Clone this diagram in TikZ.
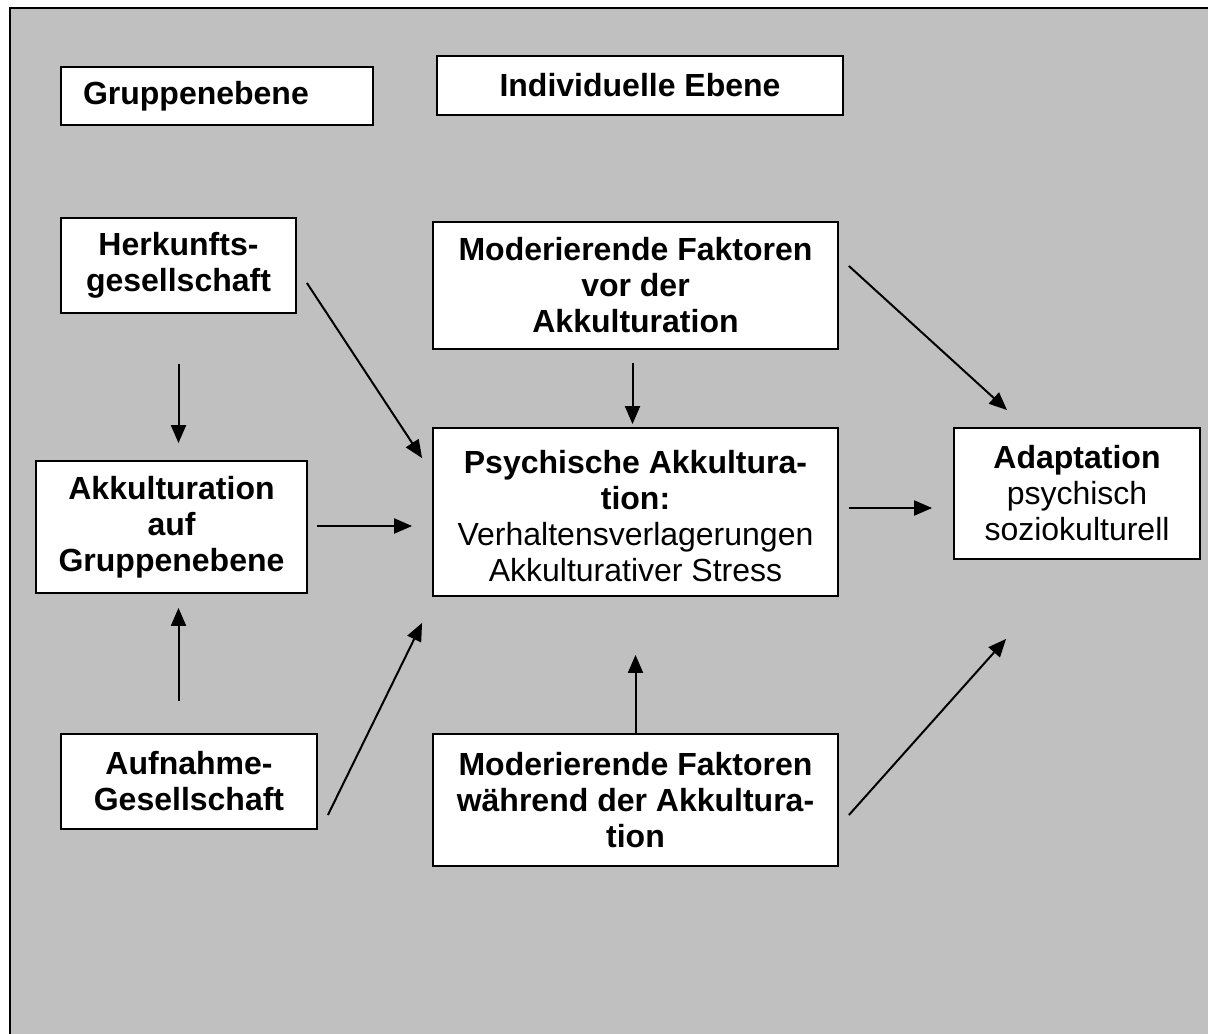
\documentclass[tikz,border=0pt]{standalone}
\usepackage{fontspec}
\setmainfont{Liberation Sans}
\usetikzlibrary{arrows.meta,positioning,calc}

\definecolor{panel}{HTML}{C0C0C0}

\begin{document}
\begin{tikzpicture}[
    x=0.5pt, y=-0.5pt,
    font=\fontsize{16}{18}\selectfont,
    box/.style={draw, line width=0.9pt, fill=white, align=center, inner sep=0pt},
    level/.style={box, font=\fontsize{16}{18}\selectfont\bfseries},
    flow/.style={-{Triangle[length=9pt,width=7.5pt]}, line width=1pt},
]
\useasboundingbox (0,0) rectangle (1208,1033);
\fill[white] (0,0) rectangle (1208,1033);
\draw[fill=panel, line width=1pt] (10,8) rectangle (1240,1060);

% =====================  LEVELS  =====================
\node[level, minimum width=156pt, minimum height=29pt, text width=134pt, align=left]
      (grp) at (217,96)    {Gruppenebene};
\node[level, minimum width=203pt, minimum height=29.5pt]
      (ind) at (640,85.5)  {Individuelle Ebene};

% =====================  GROUP LEVEL  =====================
\node[level, minimum width=117.5pt, minimum height=47.5pt]
      (herk) at (178.5,265.5) {Herkunfts-\\gesellschaft};
\node[level, minimum width=135.5pt, minimum height=66pt]
      (akk)  at (171.5,527)   {Akkulturation\\auf\\Gruppenebene};
\node[level, minimum width=128pt, minimum height=47.5pt]
      (aufn) at (189,781.5)   {Aufnahme-\\Gesellschaft};

% =====================  INDIVIDUAL LEVEL  =====================
\node[level, minimum width=202.5pt, minimum height=63.5pt]
      (vor)   at (635.5,285.5) {Moderierende Faktoren\\vor der\\Akkulturation};
\node[box, minimum width=202.5pt, minimum height=84pt]
      (psych) at (635.5,512)   {\rule{0pt}{16pt}\textbf{Psychische Akkultura-}\\\textbf{tion:}\\Verhaltensverlagerungen\\Akkulturativer Stress};
\node[level, minimum width=202.5pt, minimum height=66pt]
      (waehr) at (635.5,800)   {Moderierende Faktoren\\während der Akkultura-\\tion};
\node[box, minimum width=123pt, minimum height=65.5pt]
      (adapt) at (1077,493.5)  {\textbf{Adaptation}\\psychisch\\soziokulturell};

% group level
\draw[flow] ($(herk.south)+(0,50)$) -- ($(herk.south |- akk.north)+(0,-17)$);
\draw[flow] ($(aufn.north -| herk.south)+(0,-32)$) -- ($(akk.south -| herk.south)+(0,14)$);

% into psychische Akkulturation
\draw[flow] ($(herk.east)+(10,17.5)$) -- ($(psych.north west)+(-10,31)$);
\draw[flow] ($(akk.east)+(9,-1)$) -- ($(akk.east -| psych.west)+(-20,-1)$);
\draw[flow] ($(aufn.east)+(10,33.5)$) -- ($(psych.south west)+(-10,26)$);
\draw[flow] ($(vor.south)+(-3,13)$) -- ($(psych.north)+(-3,-3)$);
\draw[flow] (waehr.north) -- ($(psych.south)+(0,58)$);

% into Adaptation
\draw[flow] ($(vor.east)+(10,-19.5)$) -- ($(adapt.north west)+(54,-17)$);
\draw[flow] ($(psych.east)+(10,-4)$) -- ($(psych.east -| adapt.west)+(-21,-4)$);
\draw[flow] ($(waehr.east)+(10,15)$) -- ($(adapt.south west)+(53,79)$);

\end{tikzpicture}
\end{document}
